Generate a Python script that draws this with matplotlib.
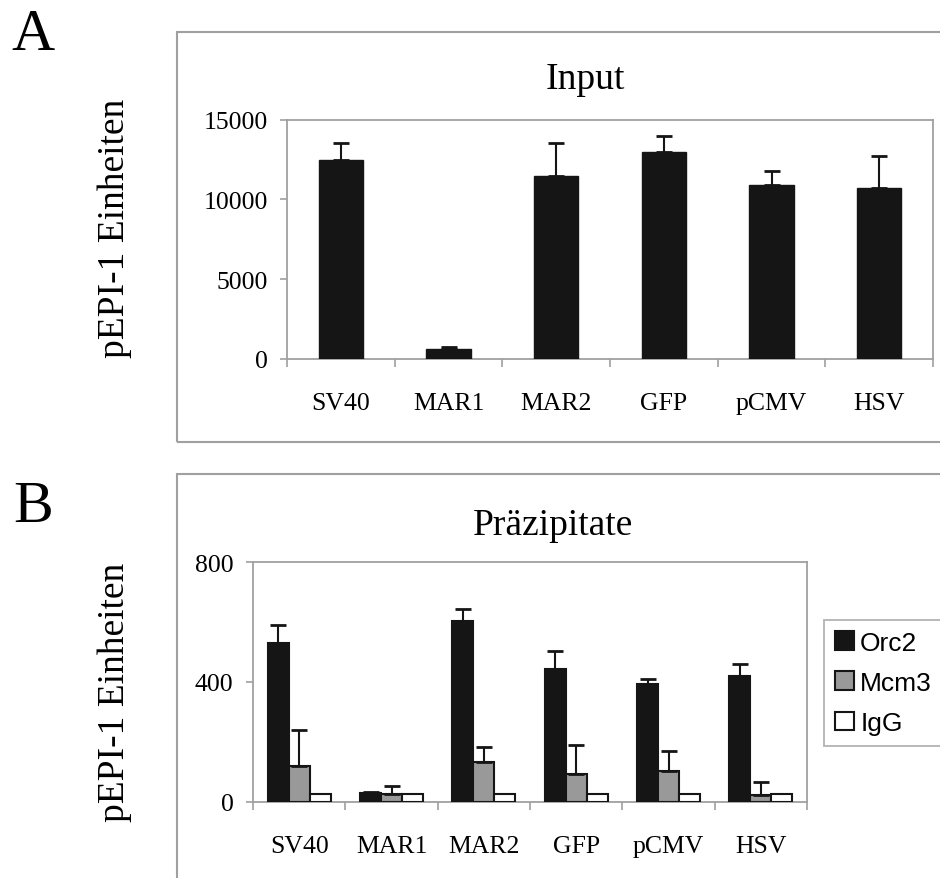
import numpy as np
import matplotlib
matplotlib.use("Agg")
import matplotlib.pyplot as plt
from matplotlib.patches import Rectangle, Patch

# Data
categories = ["SV40", "MAR1", "MAR2", "GFP", "pCMV", "HSV"]

input_vals = [12500, 600, 11450, 12950, 10900, 10700]
input_err = [1050, 150, 2100, 1000, 900, 2000]

orc2 = [530, 28, 603, 445, 393, 421]
orc2_err = [62, 3, 40, 60, 17, 40]
mcm3 = [120, 25, 132, 93, 104, 22]
mcm3_err = [118, 28, 52, 97, 66, 43]
igg = [25, 25, 25, 25, 25, 25]

series_labels = ["Orc2", "Mcm3", "IgG"]

W, H = 940, 879
plt.rcParams['font.family'] = ['Liberation Serif', 'DejaVu Serif']
fig = plt.figure(figsize=(W / 100, H / 100), dpi=100)

frame_col = "#a0a0a0"
black = "#151515"


def fx(px):
    return px / W


def fy(py):
    return 1 - py / H


# outer panel boxes
fig.patches.append(Rectangle((fx(177), fy(443)), fx(800), fy(33) - fy(443),
                             transform=fig.transFigure, fill=False,
                             edgecolor=frame_col, lw=1.5))
fig.patches.append(Rectangle((fx(177), fy(900)), fx(800), fy(475) - fy(900),
                             transform=fig.transFigure, fill=False,
                             edgecolor=frame_col, lw=1.5))


def style_axes(ax, ymax, yticks):
    n = len(categories)
    ax.set_xlim(0, n)
    ax.set_ylim(0, ymax)
    for s in ax.spines.values():
        s.set_color(frame_col)
        s.set_linewidth(1.3)
    ax.set_yticks(yticks)
    ax.set_yticklabels([str(t) for t in yticks], fontsize=18.5)
    ax.tick_params(axis='y', direction='out', length=5, width=1.2,
                   color=frame_col, pad=9)
    ax.set_xticks(np.arange(n) + 0.5)
    ax.set_xticklabels(categories, fontsize=18.5)
    ax.tick_params(axis='x', which='major', length=0, pad=24)
    ax.set_xticks(np.arange(n + 1), minor=True)
    ax.tick_params(axis='x', which='minor', direction='out', length=6,
                   width=1.2, color=frame_col)


# Panel A
axA = fig.add_axes([fx(287), fy(360), fx(933) - fx(287), fy(120.7) - fy(360)])
x = np.arange(len(categories)) + 0.5
axA.bar(x, input_vals, width=0.41, color=black, edgecolor=black, zorder=3)
axA.errorbar(x, input_vals, yerr=[np.zeros(len(x)), input_err], fmt='none',
             ecolor=black, elinewidth=1.5, capsize=6, capthick=2, zorder=4)
style_axes(axA, 15000, [0, 5000, 10000, 15000])

# Panel B
axB = fig.add_axes([fx(253), fy(802.7), fx(807) - fx(253), fy(563.3) - fy(802.7)])
bw = 0.227
vals = [orc2, mcm3, igg]
errs = [orc2_err, mcm3_err, None]
colors = [black, "#999999", "white"]
for i in range(3):
    xi = x + (i - 1) * bw
    axB.bar(xi, vals[i], width=bw, color=colors[i], edgecolor=black,
            linewidth=1.5, zorder=3)
    if errs[i] is not None:
        axB.errorbar(xi, vals[i], yerr=[np.zeros(len(x)), errs[i]], fmt='none',
                     ecolor=black, elinewidth=1.5, capsize=6, capthick=2,
                     zorder=4)
style_axes(axB, 800, [0, 400, 800])

handles = [Patch(facecolor=c, edgecolor=black, linewidth=1.5) for c in colors]
leg = fig.legend(handles, series_labels, loc='upper left',
                 bbox_to_anchor=(fx(824), fy(621)),
                 prop={'family': 'Liberation Sans', 'size': 19},
                 frameon=True, fancybox=False, edgecolor=frame_col,
                 handlelength=0.72, handleheight=0.72, handletextpad=0.25,
                 labelspacing=0.62, borderpad=0.4, borderaxespad=0)
leg.get_frame().set_linewidth(1.3)

# titles and labels
fig.text(fx(585), fy(80), "Input", fontsize=27, ha='center', va='center')
fig.text(fx(553), fy(526), "Präzipitate", fontsize=27, ha='center', va='center')
fig.text(fx(115), fy(228), "pEPI-1 Einheiten", fontsize=27, rotation=90,
         ha='center', va='center')
fig.text(fx(115), fy(692), "pEPI-1 Einheiten", fontsize=27, rotation=90,
         ha='center', va='center')
fig.text(fx(33), fy(36), "A", fontsize=43, ha='center', va='center')
fig.text(fx(33), fy(508), "B", fontsize=43, ha='center', va='center')

fig.savefig("out.png", dpi=100)
